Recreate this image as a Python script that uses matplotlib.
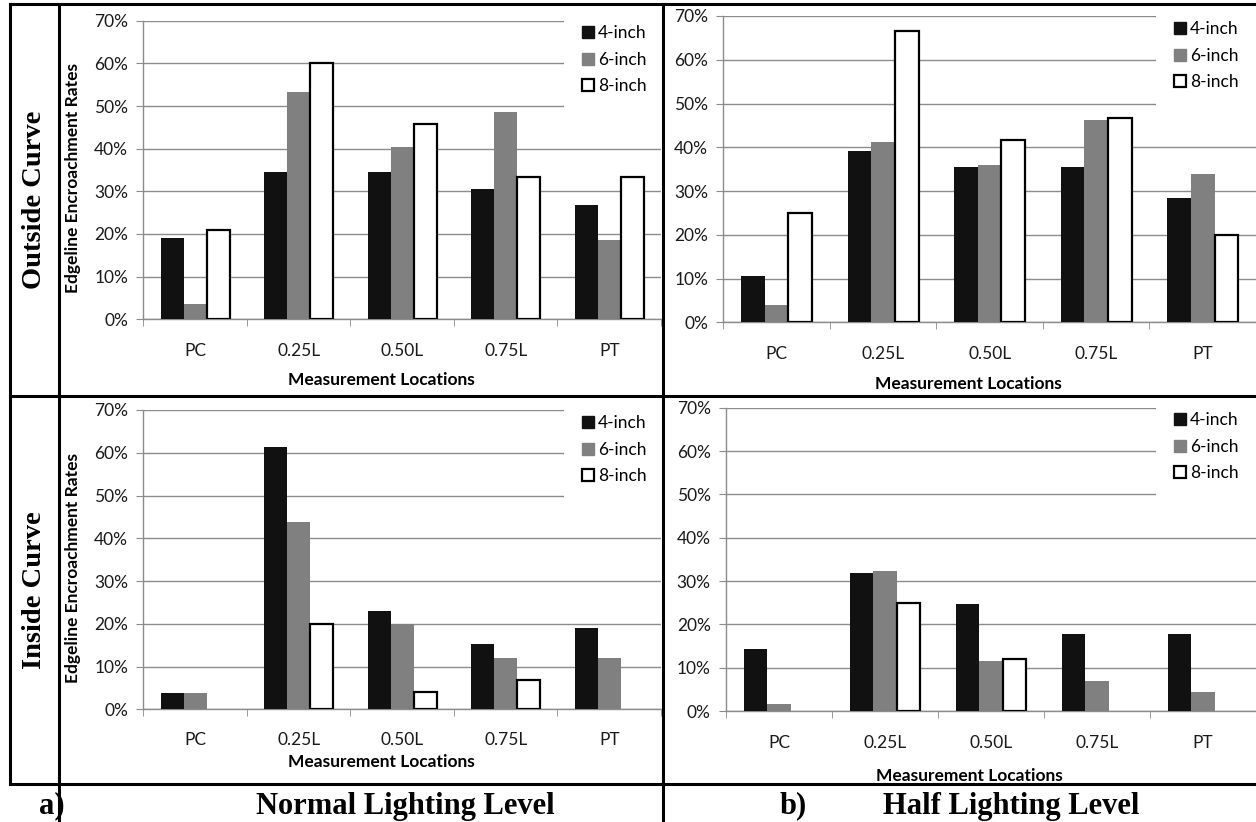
#import
import numpy as np
import matplotlib
matplotlib.use('Agg')
import matplotlib.pyplot as plt
from matplotlib.lines import Line2D
from matplotlib.patches import Patch
from matplotlib.ticker import PercentFormatter, FixedLocator

#データ
categories = ['PC', '0.25L', '0.50L', '0.75L', 'PT']
series_names = ['4-inch', '6-inch', '8-inch']

# Outside Curve / Normal Lighting Level
out_normal_4 = [19.1, 34.6, 34.6, 30.5, 26.7]
out_normal_6 = [3.7, 53.3, 40.3, 48.7, 18.7]
out_normal_8 = [20.9, 60.0, 45.8, 33.3, 33.3]

# Outside Curve / Half Lighting Level
out_half_4 = [10.5, 39.1, 35.6, 35.6, 28.3]
out_half_6 = [3.9, 41.3, 35.9, 46.2, 34.0]
out_half_8 = [24.9, 66.6, 41.6, 46.6, 20.0]

# Inside Curve / Normal Lighting Level
in_normal_4 = [3.7, 61.4, 23.0, 15.3, 19.1]
in_normal_6 = [3.9, 43.9, 20.0, 12.1, 12.1]
in_normal_8 = [0.0, 20.0, 4.0, 6.8, 0.0]

# Inside Curve / Half Lighting Level
in_half_4 = [14.2, 31.9, 24.8, 17.8, 17.8]
in_half_6 = [1.6, 32.4, 11.6, 7.0, 4.5]
in_half_8 = [0.0, 24.9, 11.9, 0.0, 0.0]

#フォント・色
sans = ['Lato', 'DejaVu Sans']
serif = ['Liberation Serif', 'DejaVu Serif']
black = '#111111'
gray = '#808080'
grid_c = '#8c8c8c'

W, H = 1256, 822
fig = plt.figure(figsize=(W / 100, H / 100), dpi=100)


def px_rect(left, top, right, bottom):
    return [left / W, 1 - bottom / H, (right - left) / W, (bottom - top) / H]


def draw_panel(rect, s4, s6, s8, ylabel, xlab_y, leg_xy, tick_pad):
    ax = fig.add_axes(rect)
    x = np.arange(len(categories))
    w = 1 / 4.5
    ax.bar(x - w, s4, w, color=black, zorder=3)
    ax.bar(x, s6, w, color=gray, zorder=3)
    lw8 = [1.6 if v > 0 else 0 for v in s8]
    ax.bar(x + w, s8, w, color='white', edgecolor='black', linewidth=lw8, zorder=3)
    ax.set_xlim(-0.5, 4.5)
    ax.set_ylim(0, 70)
    ax.set_yticks(np.arange(0, 71, 10))
    ax.yaxis.set_major_formatter(PercentFormatter(decimals=0))
    ax.grid(axis='y', color=grid_c, linewidth=1.0, zorder=0)
    ax.set_xticks(x)
    ax.set_xticklabels(categories)
    ax.xaxis.set_minor_locator(FixedLocator(np.arange(-0.5, 5, 1)))
    ax.tick_params(axis='x', which='major', length=0, pad=tick_pad)
    ax.tick_params(axis='x', which='minor', length=5, color=grid_c, direction='out')
    ax.tick_params(axis='y', length=5, color=grid_c, pad=6)
    for lab in ax.get_xticklabels() + ax.get_yticklabels():
        lab.set_family(sans)
        lab.set_fontsize(12.5)
        lab.set_color('#1a1a1a')
    for s in ['top', 'right']:
        ax.spines[s].set_visible(False)
    for s in ['left', 'bottom']:
        ax.spines[s].set_color(grid_c)
        ax.spines[s].set_linewidth(1.0)
    if ylabel:
        ax.text(-0.136, 0.472, ylabel, transform=ax.transAxes, rotation=90,
                ha='center', va='center', family=sans, fontsize=12.5, fontweight='bold')
    ax.text(0.46, xlab_y, 'Measurement Locations', transform=ax.transAxes,
            ha='center', va='center', family=sans, fontsize=12.5, fontweight='bold')
    handles = [Patch(facecolor=black, edgecolor=black),
               Patch(facecolor=gray, edgecolor=gray),
               Patch(facecolor='white', edgecolor='black', linewidth=1.6)]
    leg = ax.legend(handles, series_names, loc='upper right',
                    bbox_to_anchor=(leg_xy[0] / W, 1 - leg_xy[1] / H),
                    bbox_transform=fig.transFigure,
                    frameon=True, framealpha=1, edgecolor='none', fancybox=False,
                    prop={'family': sans, 'size': 12.5}, handlelength=0.7,
                    handleheight=0.7, handletextpad=0.25, labelspacing=0.6,
                    borderpad=1.0, borderaxespad=0)
    leg.set_zorder(5)
    return ax


#4つのグラフ
draw_panel(px_rect(143.3, 20.7, 661, 319.3), out_normal_4, out_normal_6, out_normal_8,
           'Edgeline Encroachment Rates', -0.203, (664, 8), 17)
draw_panel(px_rect(723.3, 16, 1256, 322.3), out_half_4, out_half_6, out_half_8,
           None, -0.2, (1256, 4), 17)
draw_panel(px_rect(143.3, 410, 661, 709.3), in_normal_4, in_normal_6, in_normal_8,
           'Edgeline Encroachment Rates', -0.176, (664, 398), 16)
draw_panel(px_rect(726, 407.7, 1256, 711), in_half_4, in_half_6, in_half_8,
           None, -0.214, (1256, 395), 17)

#枠線
def fline(x0, y0, x1, y1):
    fig.add_artist(Line2D([x0 / W, x1 / W], [1 - y0 / H, 1 - y1 / H],
                          color='black', linewidth=2.2, solid_capstyle='projecting'))

fline(10, 4.5, 1256, 4.5)
fline(10, 396, 1256, 396)
fline(10, 783.5, 1256, 783.5)
fline(10, 4.5, 10, 783.5)
fline(59, 4.5, 59, 822)
fline(663, 4.5, 663, 822)

#行ラベル・列ラベル
fig.text(35 / W, 1 - 200 / H, 'Outside Curve', rotation=90, ha='center', va='center',
         family=serif, fontsize=20.5, fontweight='bold')
fig.text(35 / W, 1 - 590 / H, 'Inside Curve', rotation=90, ha='center', va='center',
         family=serif, fontsize=20.5, fontweight='bold')
fig.text(52 / W, 1 - 806 / H, 'a)', ha='center', va='center',
         family=serif, fontsize=22, fontweight='bold')
fig.text(405 / W, 1 - 806 / H, 'Normal Lighting Level', ha='center', va='center',
         family=serif, fontsize=22, fontweight='bold')
fig.text(793 / W, 1 - 806 / H, 'b)', ha='center', va='center',
         family=serif, fontsize=22, fontweight='bold')
fig.text(1011 / W, 1 - 806 / H, 'Half Lighting Level', ha='center', va='center',
         family=serif, fontsize=22, fontweight='bold')

plt.savefig('out.png', dpi=100)
